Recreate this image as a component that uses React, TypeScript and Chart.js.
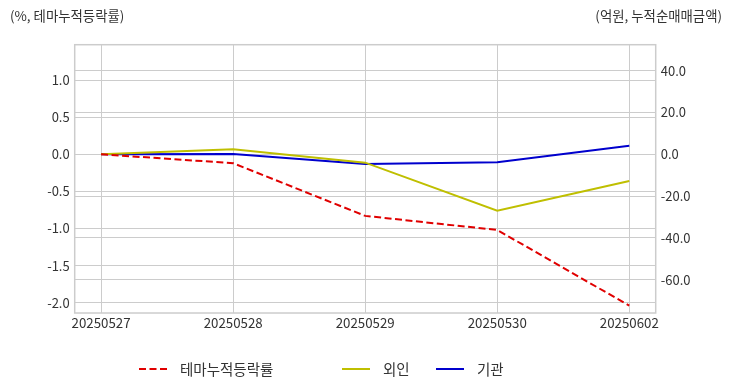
import React, { useEffect, useRef } from "react";
import { Chart, registerables } from "chart.js";

Chart.register(...registerables);

const categories = ["20250527", "20250528", "20250529", "20250530", "20250602"];
const themeReturn = [0.0, -0.12, -0.83, -1.02, -2.04];
const foreign = [0.0, 2.4, -4.0, -27.0, -12.8];
const institution = [0.0, 0.1, -4.7, -3.8, 4.1];
const leftTicks = [-2.0, -1.5, -1.0, -0.5, 0.0, 0.5, 1.0];
const rightTicks = [-60, -40, -20, 0, 20, 40];

const FONT = "'Noto Sans CJK KR', 'Noto Sans', sans-serif";
const TEXT = "#333333";

const overlay = {
  id: "overlay",
  afterDraw(chart: any) {
    const { ctx, chartArea } = chart;
    ctx.save();
    // frame
    ctx.strokeStyle = "#cccccc";
    ctx.lineWidth = 1.5;
    ctx.strokeRect(chartArea.left, chartArea.top, chartArea.right - chartArea.left, chartArea.bottom - chartArea.top);
    // titles
    ctx.fillStyle = TEXT;
    ctx.font = `13.4px ${FONT}`;
    ctx.textBaseline = "middle";
    ctx.textAlign = "left";
    ctx.fillText("(%, 테마누적등락률)", 10, 16);
    ctx.textAlign = "right";
    ctx.fillText("(억원, 누적순매매금액)", 722, 16);
    // legend
    const items = [
      { x: 139, ds: chart.data.datasets[0] },
      { x: 342, ds: chart.data.datasets[1] },
      { x: 436, ds: chart.data.datasets[2] },
    ];
    const ly = 369;
    ctx.font = `14.5px ${FONT}`;
    ctx.textAlign = "left";
    for (const it of items) {
      ctx.beginPath();
      ctx.strokeStyle = it.ds.borderColor;
      ctx.lineWidth = it.ds.borderWidth;
      ctx.setLineDash(it.ds.borderDash || []);
      ctx.moveTo(it.x, ly);
      ctx.lineTo(it.x + 28, ly);
      ctx.stroke();
      ctx.setLineDash([]);
      ctx.fillStyle = TEXT;
      ctx.fillText(it.ds.label, it.x + 41, ly);
    }
    ctx.restore();
  },
};

export default function App() {
  const ref = useRef<HTMLCanvasElement>(null);
  useEffect(() => {
    document.body.style.margin = "0";
    const toXY = (arr: number[]) => arr.map((v, i) => ({ x: i, y: v }));
    const chart = new Chart(ref.current!, {
      type: "line",
      data: {
        datasets: [
          {
            label: "테마누적등락률",
            data: toXY(themeReturn),
            borderColor: "#e00000",
            borderWidth: 2,
            borderDash: [7, 3.5],
            pointRadius: 0,
            yAxisID: "y",
          },
          {
            label: "외인",
            data: toXY(foreign),
            borderColor: "#bfbf00",
            borderWidth: 2,
            pointRadius: 0,
            yAxisID: "y1",
          },
          {
            label: "기관",
            data: toXY(institution),
            borderColor: "#0000cd",
            borderWidth: 2,
            pointRadius: 0,
            yAxisID: "y1",
          },
        ],
      },
      options: {
        animation: false,
        responsive: false,
        devicePixelRatio: 1,
        layout: { padding: { top: 44.7, left: 0, right: 0, bottom: 0 } },
        plugins: { legend: { display: false }, tooltip: { enabled: false } },
        scales: {
          x: {
            type: "linear",
            min: -0.2,
            max: 4.2,
            afterBuildTicks: (s: any) => {
              s.ticks = categories.map((_, i) => ({ value: i }));
            },
            afterFit: (s: any) => {
              s.height = 79;
            },
            ticks: {
              callback: (v: any) => categories[v as number] ?? "",
              color: TEXT,
              font: { family: FONT, size: 13.3 },
              padding: 2,
              maxRotation: 0,
              autoSkip: false,
            },
            grid: { color: "#cccccc", lineWidth: 1, drawTicks: false },
            border: { display: false },
          },
          y: {
            type: "linear",
            position: "left",
            min: -2.139,
            max: 1.477,
            afterBuildTicks: (s: any) => {
              s.ticks = leftTicks.map((v) => ({ value: v }));
            },
            afterFit: (s: any) => {
              s.width = 74.7;
            },
            ticks: {
              callback: (v: any) => Number(v).toFixed(1),
              color: TEXT,
              font: { family: FONT, size: 13 },
              padding: 5,
            },
            grid: { color: "#cccccc", lineWidth: 1, drawTicks: false },
            border: { display: false },
          },
          y1: {
            type: "linear",
            position: "right",
            min: -75.9,
            max: 52.4,
            afterBuildTicks: (s: any) => {
              s.ticks = rightTicks.map((v) => ({ value: v }));
            },
            afterFit: (s: any) => {
              s.width = 76.3;
            },
            ticks: {
              callback: (v: any) => Number(v).toFixed(1),
              color: TEXT,
              font: { family: FONT, size: 13 },
              padding: 5,
            },
            grid: { color: "#cccccc", lineWidth: 1, drawTicks: false },
            border: { display: false },
          },
        },
      },
      plugins: [overlay],
    });
    return () => chart.destroy();
  }, []);
  return <canvas ref={ref} width={732} height={392} style={{ display: "block" }} />;
}
